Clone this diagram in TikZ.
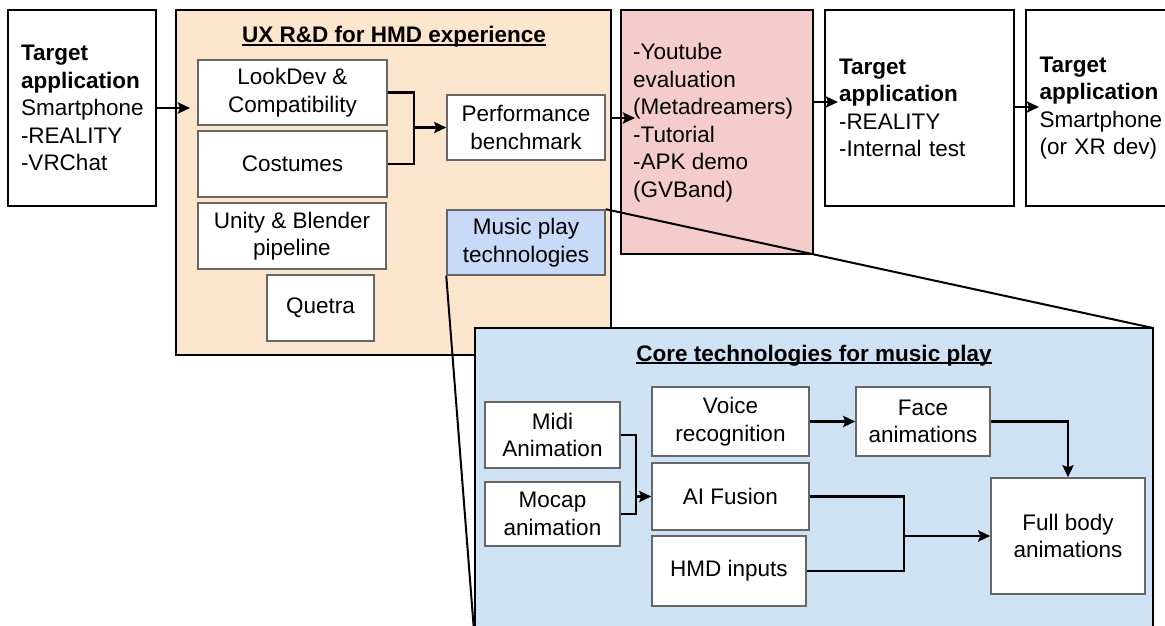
\documentclass[tikz,border=0pt]{standalone}
\usepackage{fontspec}
\setmainfont{Liberation Sans}
\usetikzlibrary{arrows.meta}
\definecolor{uxorange}{HTML}{FCE5CD}
\definecolor{evalpink}{HTML}{F4CCCC}
\definecolor{musicblue}{HTML}{C9DAF8}
\definecolor{coreblue}{HTML}{CFE2F3}
\definecolor{boxgray}{HTML}{666666}

\begin{document}
\begin{tikzpicture}[x=1pt,y=-1pt,
      font=\fontsize{22.5}{27.5}\selectfont,
      frame/.style={draw,line width=2pt},
      tgt/.style={frame,fill=white,align=left,inner ysep=0pt,minimum height=196pt},
      cell/.style={draw=boxgray,line width=1.5pt,fill=white,align=center,inner sep=0pt},
      heading/.style={anchor=base,inner sep=0pt,font=\fontsize{22.5}{27.5}\selectfont\bfseries},
      uline/.style={line width=1.5pt},
      arr/.style={line width=2.5pt,-{Stealth[length=12pt,width=11pt,inset=2pt]}},
      link/.style={line width=2.5pt}]
    \clip (0,0) rectangle (1165,626);
    % UX R&D block
    \node[frame,fill=uxorange,minimum width=435pt,minimum height=345pt] (ux) at (393.5,182.5) {};
    \node[heading] (uxtitle) at (394,43) {UX R\&D for HMD experience};
    \draw[uline] ([yshift=-2pt]uxtitle.base west) -- ([yshift=-2pt]uxtitle.base east);
    \node[cell,minimum width=189pt,minimum height=65pt] (lookdev) at (292.5,92.5) {LookDev \&\\Compatibility};
    \node[cell,minimum width=189pt,minimum height=66pt] (costumes) at (292.5,164) {Costumes};
    \node[cell,minimum width=188pt,minimum height=66pt] (unity) at (292,236) {Unity \& Blender\\pipeline};
    \node[cell,minimum width=107pt,minimum height=66pt] (quetra) at (320.5,308) {Quetra};
    \node[cell,minimum width=158pt,minimum height=65pt] (perf) at (526,127.5) {Performance\\benchmark};
    \node[cell,fill=musicblue,minimum width=158pt,minimum height=65pt] (music) at (526,242.5) {Music play\\technologies};
    % targets and evaluation
    \node[tgt,text width=122pt,inner xsep=13pt] (tgtA) at (82,108) {\textbf{Target}\\\textbf{application}\\Smartphone\\-REALITY\\-VRChat};
    \node[frame,fill=evalpink,minimum width=192pt,minimum height=244pt] (eval) at (717,132) {};
    \node[anchor=north west,align=left,inner sep=0pt] (evaltext) at (633,43) {-Youtube\\evaluation\\(Metadreamers)\\-Tutorial\\-APK demo\\(GVBand)};
    \node[tgt,text width=161pt,inner xsep=14pt] (tgtB) at (919.5,108) {\textbf{Target}\\\textbf{application}\\-REALITY\\-Internal test};
    \node[tgt,text width=161pt,inner xsep=14pt] (tgtC) at (1120,108) {\textbf{Target}\\\textbf{application}\\Smartphone\\(or XR dev)};
    \coordinate (uxin) at (190,108);
    \coordinate (ljoin) at (414,127.5);
    \coordinate (evalin) at (635,118);
    \coordinate (tbin) at (838,102);
    \coordinate (tcin) at (1039,107);
    \draw[arr] (tgtA.east) -- (uxin);
    \draw[link] (lookdev.east) -| (ljoin) |- (costumes.east);
    \draw[arr] (ljoin) -- (perf.west);
    \draw[arr] (ux.east |- evalin) -- (evalin);
    \draw[arr] (eval.east |- tbin) -- (tbin);
    \draw[arr] (tgtB.east |- tcin) -- (tcin);
    \draw[line width=2pt] (music.north east) -- (1153,328);
    % core technologies
    \node[frame,fill=coreblue,minimum width=678pt,minimum height=302pt] (core) at (814,479) {};
    \node[heading] (coretitle) at (814,361) {Core technologies for music play};
    \draw[uline] ([yshift=-2pt]coretitle.base west) -- ([yshift=-2pt]coretitle.base east);
    \node[cell,minimum width=135pt,minimum height=66pt] (midi) at (552.5,435) {Midi\\Animation};
    \node[cell,minimum width=135pt,minimum height=64pt] (mocap) at (552.5,514) {Mocap\\animation};
    \node[cell,minimum width=157pt,minimum height=69pt] (voice) at (730.5,421.5) {Voice\\recognition};
    \node[cell,minimum width=157pt,minimum height=67pt] (fusion) at (730.5,496.5) {AI Fusion};
    \node[cell,minimum width=154pt,minimum height=70pt] (hmd) at (729,571) {HMD inputs};
    \node[cell,minimum width=134pt,minimum height=69pt] (face) at (923,421.5) {Face\\animations};
    \node[cell,minimum width=154pt,minimum height=116pt] (full) at (1068,536) {Full body\\animations};
    \coordinate (mjoin) at (636,496.5);
    \coordinate (fjoin) at (904,536);
    \draw[link] (midi.east) -| (mjoin) |- (mocap.east);
    \draw[arr] (mjoin) -- (fusion.west);
    \draw[arr] (voice.east) -- (face.west);
    \draw[arr] (face.east) -| (full.north);
    \draw[link] (fusion.east) -| (fjoin) |- (hmd.east);
    \draw[arr] (fjoin) -- (full.west);
    \draw[line width=2pt] (music.south west) -- (core.south west);
  \end{tikzpicture}
\end{document}
